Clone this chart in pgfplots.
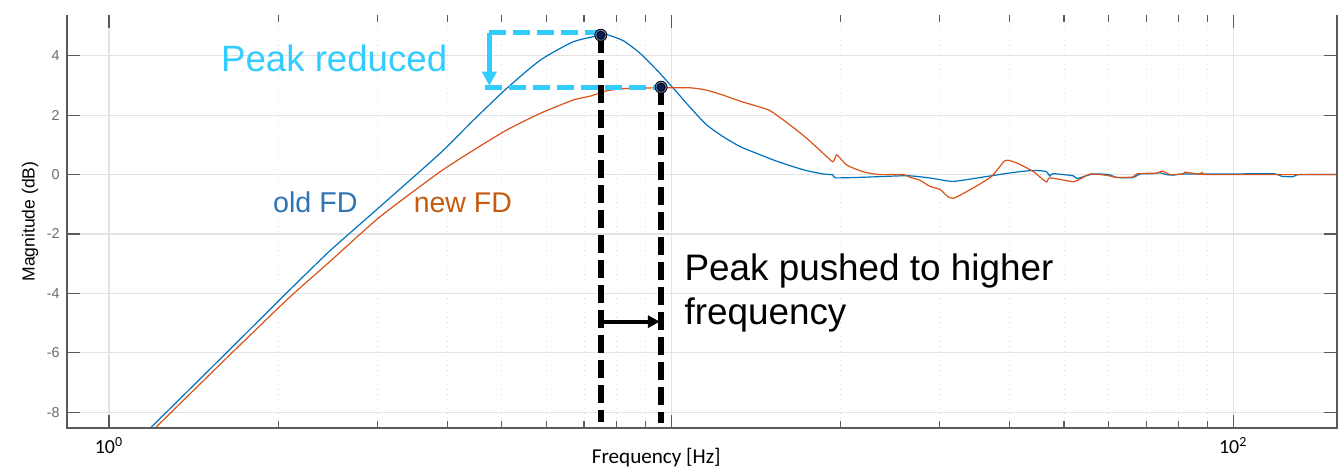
\documentclass[border=0pt]{standalone}
\usepackage{fontspec}
\setmainfont{Liberation Sans}
\newfontfamily\carlito{Carlito}
\usepackage{pgfplots}
\pgfplotsset{compat=1.18}
\usetikzlibrary{arrows.meta}
\definecolor{mblue}{HTML}{0072BD}
\definecolor{morange}{HTML}{D95319}
\definecolor{tblue}{HTML}{2E75B6}
\definecolor{torange}{HTML}{C55A11}
\definecolor{pcyan}{HTML}{33CCFF}
\definecolor{axgray}{HTML}{5A5A5A}
\definecolor{lblgray}{HTML}{6B6B6B}
\definecolor{gridgray}{HTML}{E3E3E3}
\definecolor{navy}{HTML}{0B1F55}
\definecolor{ringblue}{HTML}{4F73A8}
\begin{document}
\begin{tikzpicture}
\begin{axis}[
 scale only axis, width=635bp, height=206.5bp,
 xmode=log, xmin=0.842, xmax=153, ymin=-8.53, ymax=5.37,
 xtick={1,10,100}, xticklabels={{10\textsuperscript{0}},{},{10\textsuperscript{2}}},
 ytick={-8,-6,...,4},
 minor y tick num=0,
 xmajorgrids, xminorgrids, ymajorgrids,
 major grid style={gridgray, line width=0.6bp},
 minor grid style={gridgray, dotted, line width=0.5bp},
 axis line style={draw=none},
 tick style={axgray, line width=0.6bp},
 major tick length=6.5bp, minor tick length=3.5bp,
 tick align=inside,
 /pgf/number format/assume math mode=true,
 yticklabel style={font=\fontsize{7.2}{8}\selectfont, text=lblgray, inner sep=0pt, xshift=-3.5bp},
 xticklabel style={font=\carlito\fontsize{10}{12}\selectfont, inner sep=0pt, yshift=-4.5bp},
 xlabel={Frequency [Hz]},
 xlabel style={font=\carlito\fontsize{10.6}{12}\selectfont, at={(axis description cs:0.464,-0.0726)}, anchor=center},
 ylabel={Magnitude (dB)},
 ylabel style={font=\fontsize{8.8}{10}\selectfont, at={(axis description cs:-0.0291,0.5)}, anchor=center},
 clip mode=individual,
]
% old FD
\addplot[mblue, line width=0.6bp, smooth, tension=0.35] coordinates {
(1.15,-8.75) (1.186,-8.52) (1.452,-6.88) (1.782,-5.21) (2.071,-3.98) (2.474,-2.56)
(3.035,-1.08) (3.88,0.71) (4.45,1.83) (5.10,2.90) (5.85,3.85) (6.70,4.47) (7.5,4.69)
(7.69,4.71) (8.23,4.50) (8.81,4.08) (9.43,3.52) (10.10,2.90) (10.81,2.26) (11.57,1.67)
(12.39,1.27) (13.27,0.94) (14.21,0.71) (15.21,0.49) (16.28,0.30) (17.43,0.13)
(18.66,0.02) (19.4,-0.01) (19.6,-0.11) (22,-0.09) (26.3,-0.04)
(29,-0.12) (31.75,-0.23) (36,-0.08) (40.6,0.07) (44.1,0.14) (46.5,0.1) (47.2,-0.05)
(47.8,0.03) (51.9,-0.04) (52.8,-0.13) (56.3,0.02) (60,0.0) (62.2,-0.1) (66.4,-0.1)
(68.3,0.02) (72,0.03) (74.2,0.06) (76,0.0) (78.2,-0.02) (81.5,0.02) (100,0.02)
(117.8,0.03) (122,-0.06) (127.9,-0.07) (131,0) (153,0)
};
% new FD
\addplot[morange, line width=0.6bp, smooth, tension=0.35] coordinates {
(1.17,-8.8) (1.207,-8.54) (1.576,-6.39) (2.071,-4.22) (2.474,-2.92) (3.035,-1.42)
(3.88,0.09) (4.45,0.82) (5.10,1.50) (5.85,2.06) (6.70,2.51) (7.18,2.64) (7.69,2.82)
(8.23,2.89) (9.43,2.92) (10.81,2.92) (11.57,2.84) (12.39,2.67) (13.27,2.47) (14.21,2.30)
(15.0,2.15) (16.28,1.67) (17.43,1.22) (18.66,0.71) (19.40,0.43) (19.72,0.66)
(20.54,0.32) (22.0,0.09) (23.5,0.0) (25.9,0.0) (26.6,-0.09) (27.7,-0.19) (28.9,-0.4)
(30.1,-0.5) (31.75,-0.8) (36.95,-0.1) (39.3,0.47) (41.3,0.38) (44.1,0.1) (46.5,-0.25)
(47.2,-0.11) (51.9,-0.24) (53.4,-0.15) (55.7,0.02) (59.7,-0.03) (62.2,-0.1)
(66.4,-0.08) (67.5,0.03) (73.2,0.05) (74.8,0.12) (77.3,0.0) (81.5,0.02) (82,0.08)
(87.4,0.01) (88,0.06) (90,0.0) (153,0.0)
};
% axis lines (no top line, as in the reference)
\draw[axgray, line width=0.8bp] (rel axis cs:0,1) -- (rel axis cs:0,0) -- (rel axis cs:1,0) -- (rel axis cs:1,1);
% annotations
\draw[pcyan, line width=2.5bp, dash pattern=on 8.5bp off 3.5bp] (4.75,4.78) -- (7.5,4.78);
\draw[pcyan, line width=2.5bp, dash pattern=on 8.5bp off 3.5bp] (4.67,2.93) -- (9.6,2.93);
\draw[pcyan, line width=2.2bp, -{Triangle[length=7bp,width=7bp]}] (4.75,4.78) -- (4.75,2.99);
\draw[black, line width=3bp, dash pattern=on 9bp off 3.5bp] (7.5,4.69) -- (7.5,-8.32);
\draw[black, line width=3bp, dash pattern=on 9bp off 3.5bp] (9.6,2.94) -- (9.6,-8.35);
\draw[black, line width=2bp, -{Triangle[length=6bp,width=6bp]}] (7.5,-4.95) -- (9.55,-4.95);
\addplot[only marks, mark=*, mark size=3bp, draw=none, fill=ringblue, fill opacity=0.85] coordinates {(7.5,4.69) (9.6,2.94)};
\addplot[only marks, mark=*, mark size=2bp, draw=none, fill=navy] coordinates {(7.5,4.69) (9.6,2.94)};
\node[anchor=base west, inner sep=0pt, text=pcyan, font=\fontsize{18.4}{22}\selectfont] at (1.58,3.48) {Peak reduced};
\node[anchor=base west, inner sep=0pt, font=\fontsize{18.5}{22}\selectfont] at (10.55,-3.58) {Peak pushed to higher};
\node[anchor=base west, inner sep=0pt, font=\fontsize{18.5}{22}\selectfont] at (10.55,-5.06) {frequency};
\node[anchor=base west, inner sep=0pt, text=tblue, font=\fontsize{14.4}{17}\selectfont] at (1.956,-1.27) {old FD};
\node[anchor=base west, inner sep=0pt, text=torange, font=\fontsize{14.3}{17}\selectfont] at (3.48,-1.27) {new FD};
\end{axis}
\pgfresetboundingbox
\path[use as bounding box] ([xshift=-33.5bp,yshift=-20.5bp]current axis.south west) rectangle ([xshift=3.5bp,yshift=7.5bp]current axis.north east);
\end{tikzpicture}
\end{document}
